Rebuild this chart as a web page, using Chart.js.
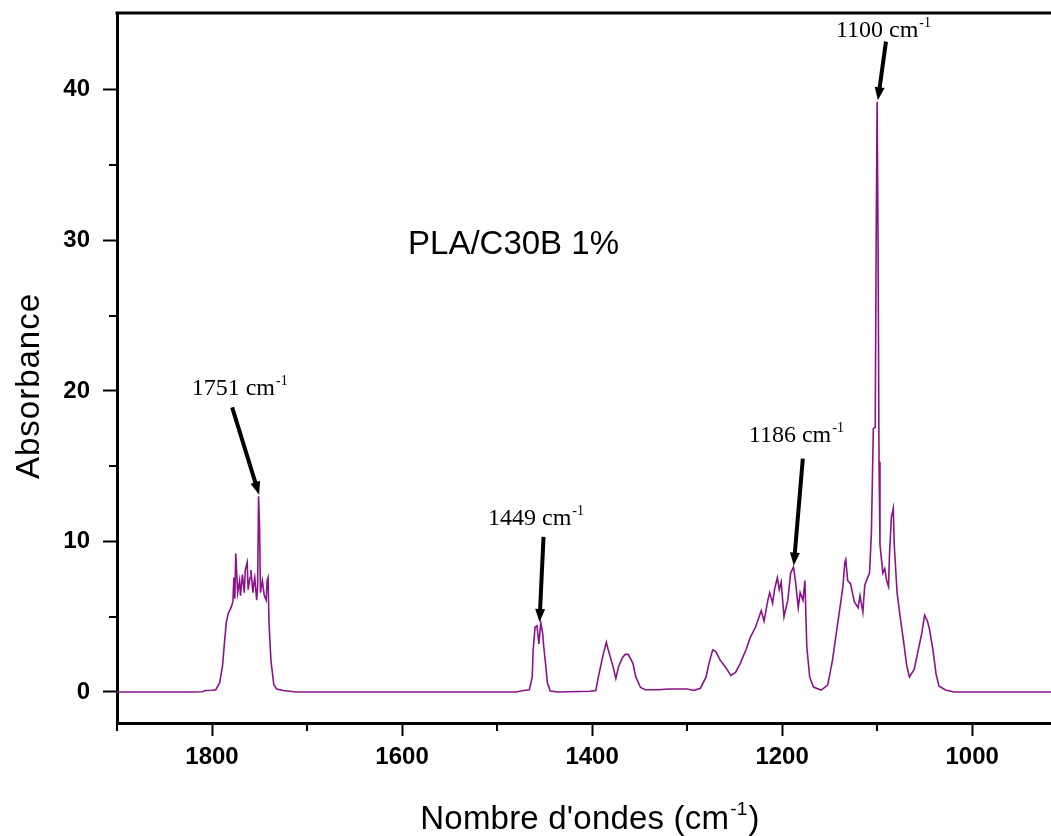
<!DOCTYPE html>
<html>
<head>
<meta charset="utf-8">
<script src="https://cdn.jsdelivr.net/npm/chart.js@4.4.1/dist/chart.umd.min.js"></script>
<style>
  body { margin: 0; background: #fff; }
  canvas { display: block; }
</style>
</head>
<body>
<canvas id="spectrum" width="1051" height="836"></canvas>
<script>
// FTIR spectrum PLA/C30B 1%
const wavenumbers = [
    1900, 1860, 1820, 1810, 1807, 1800, 1796, 1792, 1789, 1787, 1785, 1783, 1780, 1778, 1777, 1776, 1775, 1773,
    1771, 1770, 1768, 1766, 1765, 1763, 1762, 1760, 1759, 1757, 1756, 1755, 1753, 1752, 1751, 1750, 1749, 1747,
    1745, 1743, 1742, 1741, 1740, 1738, 1735, 1732, 1725, 1712, 1600, 1480, 1472, 1466, 1463, 1462, 1460, 1458,
    1456, 1454, 1452, 1451, 1449, 1447, 1444, 1436, 1402, 1396, 1394, 1389, 1385, 1383, 1378, 1375, 1372, 1368,
    1365, 1362, 1357, 1354, 1349, 1344, 1330, 1320, 1310, 1300, 1293, 1286, 1280, 1277, 1273, 1270, 1265, 1259,
    1254, 1249, 1244, 1238, 1233, 1228, 1222, 1219, 1215, 1213, 1210, 1208, 1205, 1203, 1201, 1198, 1194, 1191,
    1188, 1186, 1183, 1181, 1178, 1176, 1174, 1171, 1167, 1159, 1152, 1147, 1143, 1140, 1136, 1134, 1133, 1131,
    1128, 1124, 1120, 1118, 1115, 1113, 1110, 1108, 1106, 1104, 1102, 1101, 1100, 1099, 1098, 1097, 1094, 1092,
    1090, 1088, 1087, 1085, 1083, 1082, 1079, 1076, 1072, 1069, 1066, 1061, 1057, 1053, 1050, 1047, 1045, 1041,
    1038, 1035, 1028, 1019, 917
];
const absorbance = [
    0, 0, 0, 0.02, 0.1, 0.12, 0.15, 0.6, 1.7, 3.2, 4.6, 5.2, 5.6, 6.0, 7.6, 6.2, 9.2, 6.6,
    7.4, 6.4, 7.8, 6.6, 8.1, 8.6, 6.8, 7.6, 8.1, 6.6, 7.2, 7.6, 6.1, 7.0, 13.0, 11.0, 6.6, 7.4,
    6.4, 6.1, 7.4, 7.6, 4.6, 2.1, 0.5, 0.2, 0.1, 0, 0, 0, 0.1, 0.15, 1.0, 2.8, 4.3, 4.4,
    3.2, 4.6, 3.9, 3.1, 1.9, 0.6, 0.07, 0, 0.05, 0.1, 0.8, 2.3, 3.3, 2.8, 1.7, 0.9, 1.7, 2.3,
    2.5, 2.5, 1.9, 1.0, 0.3, 0.15, 0.15, 0.2, 0.2, 0.2, 0.1, 0.25, 1.0, 1.9, 2.8, 2.7, 2.1, 1.6,
    1.1, 1.3, 1.9, 2.8, 3.7, 4.3, 5.4, 4.7, 6.1, 6.6, 5.9, 6.8, 7.6, 6.8, 7.3, 5.0, 6.1, 7.9,
    8.3, 7.4, 5.6, 6.6, 6.1, 7.4, 3.0, 1.0, 0.33, 0.13, 0.46, 2.1, 3.9, 5.2, 7.0, 8.6, 8.8, 7.4,
    7.2, 6.0, 5.6, 6.4, 5.3, 7.1, 7.6, 7.9, 10.6, 17.5, 17.6, 30.0, 39.2, 29.8, 15.3, 9.8, 7.9, 8.2,
    7.4, 7.0, 9.1, 11.6, 12.2, 9.8, 6.6, 5.1, 3.3, 1.8, 1.0, 1.5, 2.7, 3.9, 5.1, 4.7, 4.2, 2.7,
    1.2, 0.4, 0.13, 0, 0
];

const xMajorTicks = [1800, 1600, 1400, 1200, 1000];
const xMinorTicks = [1900, 1700, 1500, 1300, 1100];
const yMajorTicks = [0, 10, 20, 30, 40];
const yMinorTicks = [5, 15, 25, 35];

// peak labels: label at (x, y), arrow from tail to tip, all in data units
const peakLabels = ['1751', '1449', '1186', '1100'];
const peakLabelX = [1770.4, 1458.5, 1184.5, 1092.8];
const peakLabelY = [19.7, 11.1, 16.6, 43.5];
const arrowTail = [[1778.8, 18.9], [1451.1, 10.3], [1178.2, 15.5], [1090.7, 43.2]];
const arrowTip = [[1750.4, 13.1], [1455.3, 4.65], [1187.7, 8.4], [1099.2, 39.3]];

const sampleName = 'PLA/C30B 1%';
const samplePos = [1482.7, 29.7];

const SANS = "'Liberation Sans', Arial, sans-serif";
const SERIF = "'Liberation Serif', 'Times New Roman', serif";

function drawArrow(ctx, x1, y1, x2, y2) {
    const ang = Math.atan2(y2 - y1, x2 - x1);
    const head = 13;
    ctx.save();
    ctx.strokeStyle = '#000';
    ctx.fillStyle = '#000';
    ctx.lineWidth = 4;
    ctx.beginPath();
    ctx.moveTo(x1, y1);
    ctx.lineTo(x2 - Math.cos(ang) * head * 0.8, y2 - Math.sin(ang) * head * 0.8);
    ctx.stroke();
    ctx.beginPath();
    ctx.moveTo(x2, y2);
    ctx.lineTo(x2 - head * Math.cos(ang) + 5 * Math.sin(ang), y2 - head * Math.sin(ang) - 5 * Math.cos(ang));
    ctx.lineTo(x2 - head * Math.cos(ang) - 5 * Math.sin(ang), y2 - head * Math.sin(ang) + 5 * Math.cos(ang));
    ctx.closePath();
    ctx.fill();
    ctx.restore();
}

// text with a "-1" superscript after it, centred on cx
function drawSupText(ctx, main, sup, after, cx, baseY, font, size, supSize, rise, spacing) {
    ctx.save();
    ctx.letterSpacing = (spacing || 0) + 'px';
    ctx.textBaseline = 'alphabetic';
    ctx.textAlign = 'left';
    ctx.font = size + 'px ' + font;
    const w1 = ctx.measureText(main).width;
    const w3 = after ? ctx.measureText(after).width : 0;
    ctx.font = supSize + 'px ' + font;
    const w2 = ctx.measureText(sup).width;
    let x = cx - (w1 + w2 + w3 + 2) / 2;
    ctx.font = size + 'px ' + font;
    ctx.fillText(main, x, baseY);
    x += w1 + 1;
    ctx.font = supSize + 'px ' + font;
    ctx.fillText(sup, x, baseY - rise);
    x += w2 + 1;
    if (after) {
        ctx.font = size + 'px ' + font;
        ctx.fillText(after, x, baseY);
    }
    ctx.restore();
}

const decorations = {
    id: 'decorations',
    afterDraw(chart) {
        const ctx = chart.ctx;
        const area = chart.chartArea;
        const xs = chart.scales.x;
        const ys = chart.scales.y;

        ctx.save();
        // top frame line
        ctx.strokeStyle = '#000';
        ctx.lineWidth = 3;
        ctx.beginPath();
        ctx.moveTo(area.left - 1.5, area.top);
        ctx.lineTo(area.right, area.top);
        ctx.stroke();

        // minor ticks
        ctx.lineWidth = 2;
        xMinorTicks.forEach(v => {
            const px = Math.round(xs.getPixelForValue(v));
            ctx.beginPath();
            ctx.moveTo(px, area.bottom);
            ctx.lineTo(px, area.bottom + 8);
            ctx.stroke();
        });
        yMinorTicks.forEach(v => {
            const py = Math.round(ys.getPixelForValue(v));
            ctx.beginPath();
            ctx.moveTo(area.left, py);
            ctx.lineTo(area.left - 8, py);
            ctx.stroke();
        });

        // axis titles
        ctx.fillStyle = '#000';
        drawSupText(ctx, "Nombre d'ondes (cm", '-1', ')', 590, 829, SANS, 33, 19, 14, 0.2);
        ctx.save();
        ctx.translate(39, 386);
        ctx.rotate(-Math.PI / 2);
        ctx.font = '33px ' + SANS;
        ctx.letterSpacing = '1px';
        ctx.textAlign = 'center';
        ctx.textBaseline = 'alphabetic';
        ctx.fillText('Absorbance', 0, 0);
        ctx.restore();

        // sample name
        ctx.font = '33px ' + SANS;
        ctx.textAlign = 'center';
        ctx.textBaseline = 'middle';
        ctx.fillText(sampleName, xs.getPixelForValue(samplePos[0]), ys.getPixelForValue(samplePos[1]));

        // peak labels and arrows
        peakLabels.forEach((lab, i) => {
            drawSupText(ctx, lab + ' cm', '-1', '', xs.getPixelForValue(peakLabelX[i]),
                ys.getPixelForValue(peakLabelY[i]), SERIF, 24, 14, 10, 0);
            drawArrow(ctx,
                xs.getPixelForValue(arrowTail[i][0]), ys.getPixelForValue(arrowTail[i][1]),
                xs.getPixelForValue(arrowTip[i][0]), ys.getPixelForValue(arrowTip[i][1]));
        });
        ctx.restore();
    }
};

const points = wavenumbers.map((w, i) => ({ x: w, y: absorbance[i] }));

new Chart(document.getElementById('spectrum'), {
    type: 'line',
    data: {
        datasets: [{
            label: sampleName,
            data: points,
            borderColor: '#8b128b',
            borderWidth: 1.6,
            pointRadius: 0,
            tension: 0,
            fill: false
        }]
    },
    options: {
        responsive: false,
        animation: false,
        devicePixelRatio: 1,
        layout: { padding: { top: 13, right: 0, left: 0, bottom: 0 } },
        plugins: {
            legend: { display: false },
            tooltip: { enabled: false }
        },
        scales: {
            x: {
                type: 'linear',
                reverse: true,
                min: 917,
                max: 1900,
                afterFit: s => { s.height = 113; s.paddingLeft = 0; s.paddingRight = 0; },
                afterBuildTicks: s => { s.ticks = xMajorTicks.map(v => ({ value: v })); },
                grid: { drawOnChartArea: false, tickLength: 13, tickWidth: 2, tickColor: '#000' },
                border: { display: true, color: '#000', width: 3 },
                ticks: {
                    color: '#000',
                    padding: 7,
                    maxRotation: 0,
                    callback: v => String(v),
                    font: { family: SANS, size: 24, weight: 'bold' }
                }
            },
            y: {
                min: -2.06,
                max: 45.1,
                afterFit: s => { s.width = 117; s.paddingTop = 0; s.paddingBottom = 0; },
                afterBuildTicks: s => { s.ticks = yMajorTicks.map(v => ({ value: v })); },
                grid: { drawOnChartArea: false, tickLength: 14, tickWidth: 2, tickColor: '#000' },
                border: { display: true, color: '#000', width: 3 },
                ticks: {
                    color: '#000',
                    padding: 13,
                    callback: v => String(v),
                    font: { family: SANS, size: 24, weight: 'bold' }
                }
            }
        }
    },
    plugins: [decorations]
});
</script>
</body>
</html>
